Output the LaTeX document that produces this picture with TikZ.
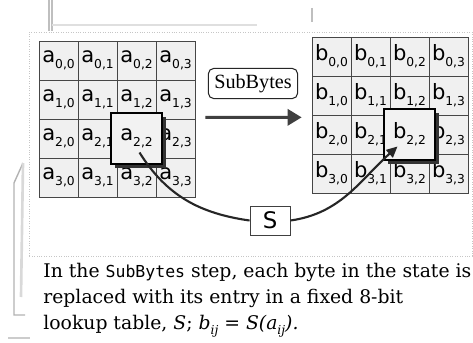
\documentclass[tikz,border=0pt]{standalone}
\usepackage{fontspec}
\setmainfont{DejaVu Serif}
\setsansfont{DejaVu Sans}
\setmonofont{DejaVu Sans Mono}
\newfontfamily\timesfont{Liberation Serif}
\usetikzlibrary{arrows.meta,shadows,calc}
\newcommand\idx[1]{\raisebox{-0.55ex}{\fontsize{7}{8}\selectfont #1}}
\tikzset{
  cell/.style={draw=gray!55!black, line width=0.4pt, fill=gray!12, minimum size=0.78cm,
    inner sep=0pt, font=\sffamily\fontsize{12}{14}\selectfont},
  pick/.style={cell, draw=black, line width=0.7pt, fill=gray!10, minimum size=1.02cm,
    drop shadow={shadow xshift=0.08cm, shadow yshift=-0.08cm, fill=black!80, opacity=1}},
  stepname/.style={draw=black!85, line width=0.6pt, rounded corners=3pt, fill=white,
    minimum width=1.6cm, minimum height=0.6cm, font=\timesfont\fontsize{11.5}{13}\selectfont},
  sbox/.style={draw=gray!50!black, line width=0.5pt, fill=white, minimum width=0.8cm,
    minimum height=0.58cm, font=\sffamily\fontsize{13}{15}\selectfont},
  bigarrow/.style={-{Triangle[length=0.28cm,width=0.32cm]}, line width=1.8pt, draw=black!75, fill=black!75},
  curve/.style={line width=1.2pt, draw=black!85},
  caption/.style={anchor=base west, inner sep=0pt, font=\fontsize{10.7}{13}\selectfont},
  scan/.style={gray!50, line width=0.8pt}
}
\begin{document}
\begin{tikzpicture}[x=0.02cm,y=0.02cm]
  \useasboundingbox (0,0) rectangle (473,342);
  % stray marks of the scanned page
  \draw[scan] (49,342) -- (49,311);
  \draw[scan] (52,342) -- (52,311);
  \draw[scan, gray!25] (52,317) -- (257,317);
  \draw[scan] (312,334) -- (312,320);
  \draw[scan, gray!60] (23,179) -- (14,159) -- (14,27) -- (25,27);
  \draw[scan, gray!30, line width=1.5pt] (23,179) -- (21,45);
  \draw[scan, gray!40] (8,4) -- (30,4);
  % figure frame
  \draw[gray!45, densely dotted, fill=white] (29,86) rectangle (472,310);
  % the two states
  \foreach \r in {0,...,3}
    \foreach \c in {0,...,3} {
      \node[cell] (a\r\c) at ({58.5+39*\c},{281.5-39*\r}) {a\idx{\r,\c}};
      \node[cell] (b\r\c) at ({331.5+39*\c},{285.5-39*\r}) {b\idx{\r,\c}};
    }
  \node[pick] (A22) at (a22) {a\idx{2,2}};
  \node[pick] (B22) at (b22) {b\idx{2,2}};
  % step label and arrow
  \node[stepname] (sb) at (253,258.5) {SubBytes};
  \draw[bigarrow] ([xshift=0.2cm,yshift=0.04cm]a13.south east) -- ([xshift=-0.2cm,yshift=-0.04cm]b10.south west);
  % lookup through S
  \node[sbox] (S) at (270,121.5) {S};
  \draw[curve] ($(A22.center)+(3,-14)$) to[out=-58,in=172] (S.west);
  \draw[curve, -{Triangle[length=0.22cm,width=0.2cm]}] (S.east) to[out=8,in=222] ($(B22.center)+(-12,-12)$);
  % caption
  \node[caption] (cap1) at (43,65) {In the {\ttfamily\fontsize{9.4}{11}\selectfont SubBytes} step, each byte in the state is};
  \node[caption] (cap2) at (43,39) {replaced with its entry in a fixed 8-bit};
  \node[caption] (cap3) at (43,13) {lookup table, \textit{S}; \textit{b}\idx{\textit{ij}} = \textit{S(a}\idx{\textit{ij}}\textit{).}};
\end{tikzpicture}
\end{document}
